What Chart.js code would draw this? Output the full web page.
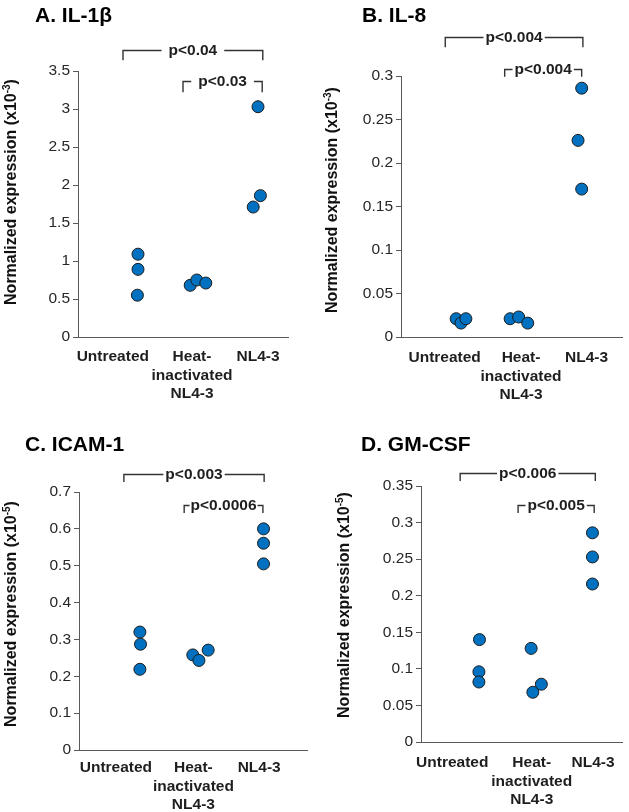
<!DOCTYPE html>
<html><head><meta charset="utf-8">
<script src="https://cdn.jsdelivr.net/npm/chart.js@4/dist/chart.umd.min.js"></script>
<style>
body{margin:0;background:#fff;width:629px;height:812px;position:relative;overflow:hidden}
canvas{position:absolute;display:block}
</style></head><body>
<canvas id="cA" width="315" height="406" style="left:0;top:0"></canvas>
<canvas id="cB" width="315" height="406" style="left:314px;top:0"></canvas>
<canvas id="cC" width="315" height="406" style="left:0;top:406px"></canvas>
<canvas id="cD" width="315" height="406" style="left:314px;top:406px"></canvas>
<script>
// ---------- data ----------
const categoryLabels = [["Untreated"], ["Heat-", "inactivated", "NL4-3"], ["NL4-3"]];

// A. IL-1β (x10^-3)
const il1bUntreated = [1.09, 0.89, 0.55];
const il1bHeat      = [0.68, 0.75, 0.71];
const il1bNL43      = [3.03, 1.86, 1.71];
const il1bPos       = [[1.0, 1.0, 0.99], [1.87, 1.98, 2.13], [3.0, 3.04, 2.92]];
const il1bTicks     = ["0", "0.5", "1", "1.5", "2", "2.5", "3", "3.5"];
const il1bP         = ["p<0.04", "p<0.03"];

// B. IL-8 (x10^-3)
const il8Untreated = [0.021, 0.016, 0.021];
const il8Heat      = [0.021, 0.023, 0.016];
const il8NL43      = [0.286, 0.226, 0.170];
const il8Pos       = [[0.91, 0.99, 1.07], [1.80, 1.94, 2.09], [2.98, 2.92, 2.98]];
const il8Ticks     = ["0", "0.05", "0.1", "0.15", "0.2", "0.25", "0.3"];
const il8P         = ["p<0.004", "p<0.004"];

// C. ICAM-1 (x10^-5)
const icamUntreated = [0.320, 0.287, 0.219];
const icamHeat      = [0.258, 0.243, 0.271];
const icamNL43      = [0.600, 0.561, 0.505];
const icamPos       = [[0.99, 1.0, 0.99], [1.85, 1.95, 2.10], [3.0, 3.0, 3.0]];
const icamTicks     = ["0", "0.1", "0.2", "0.3", "0.4", "0.5", "0.6", "0.7"];
const icamP         = ["p<0.003", "p<0.0006"];

// D. GM-CSF (x10^-5)
const gmUntreated = [0.140, 0.096, 0.082];
const gmHeat      = [0.128, 0.068, 0.079];
const gmNL43      = [0.286, 0.253, 0.216];
const gmPos       = [[1.03, 1.02, 1.02], [1.94, 1.97, 2.12], [3.02, 3.02, 3.02]];
const gmTicks     = ["0", "0.05", "0.1", "0.15", "0.2", "0.25", "0.3", "0.35"];
const gmP         = ["p<0.006", "p<0.005"];

// ---------- drawing ----------
const FONT = '"Liberation Sans", Arial, sans-serif';
const AXIS = '#595959';
const INK = '#1e1e1e';
const W = 315, H = 406;

const decoPlugin = {
  id: 'deco',
  afterDraw(chart, args, o) {
    const ctx = chart.ctx, xs = chart.scales.x, ys = chart.scales.y;
    ctx.save();
    // panel title
    ctx.fillStyle = '#000';
    ctx.font = 'bold 21px ' + FONT;
    ctx.textAlign = 'left'; ctx.textBaseline = 'middle';
    ctx.fillText(o.title, o.titleX, o.titleY);
    // y axis title with superscript
    ctx.save();
    ctx.translate(o.yTitleX, o.yTitleY);
    ctx.rotate(-Math.PI / 2);
    const mainF = 'bold 16px ' + FONT, supF = 'bold 10px ' + FONT;
    ctx.font = mainF; const w1 = ctx.measureText(o.yTitle).width; const w3 = ctx.measureText(')').width;
    ctx.font = supF; const w2 = ctx.measureText(o.yTitleSup).width;
    let x0 = -(w1 + w2 + w3) / 2;
    ctx.textAlign = 'left'; ctx.textBaseline = 'middle'; ctx.fillStyle = '#111';
    ctx.font = mainF; ctx.fillText(o.yTitle, x0, 0);
    ctx.font = supF; ctx.fillText(o.yTitleSup, x0 + w1, -5);
    ctx.font = mainF; ctx.fillText(')', x0 + w1 + w2, 0);
    ctx.restore();
    // category labels
    ctx.font = 'bold 15.5px ' + FONT;
    ctx.fillStyle = INK; ctx.textAlign = 'center'; ctx.textBaseline = 'middle';
    categoryLabels.forEach((lines, i) => {
      const cx = xs.getPixelForValue(o.catX[i]);
      lines.forEach((t, j) => ctx.fillText(t, cx, ys.bottom + o.catDy + j * 18.3));
    });
    // significance brackets
    ctx.strokeStyle = '#333'; ctx.lineWidth = 1.4;
    o.brackets.forEach(b => {
      const x1 = xs.getPixelForValue(b.x1), x2 = xs.getPixelForValue(b.x2);
      const yl = Math.round(ys.getPixelForValue(b.yLine)) + 0.5, ye = ys.getPixelForValue(b.yEnd);
      ctx.font = 'bold 15.5px ' + FONT;
      const tw = ctx.measureText(b.text).width;
      const cx = (x1 + x2) / 2;
      ctx.beginPath();
      ctx.moveTo(x1, ye); ctx.lineTo(x1, yl); ctx.lineTo(cx - tw / 2 - b.gap, yl);
      ctx.moveTo(cx + tw / 2 + b.gap, yl); ctx.lineTo(x2, yl); ctx.lineTo(x2, ye);
      ctx.stroke();
      ctx.fillStyle = INK; ctx.textAlign = 'center'; ctx.textBaseline = 'alphabetic';
      ctx.fillText(b.text, cx, yl + 4.5);
    });
    ctx.restore();
  }
};

function makeChart(id, p) {
  const groups = [p.untreated, p.heat, p.nl43];
  const pts = [];
  groups.forEach((vals, g) => vals.forEach((v, k) => pts.push({ x: p.pos[g][k], y: v })));
  const yVals = p.ticks.map(Number);
  new Chart(document.getElementById(id), {
    type: 'scatter',
    data: { datasets: [{ data: pts, pointRadius: 6, pointHoverRadius: 6, backgroundColor: '#0070C0', borderColor: '#1c1c1c', borderWidth: 1 }] },
    options: {
      responsive: false, animation: false, events: [],
      layout: { padding: { left: 0, top: p.box.top, right: W - p.box.right, bottom: 0 } },
      plugins: { legend: { display: false }, tooltip: { enabled: false }, deco: p.deco },
      scales: {
        x: { type: 'linear', min: 0, max: p.xMax,
             ticks: { display: false }, grid: { display: false },
             border: { display: true, color: AXIS, width: 1 },
             afterFit(s) { s.height = H - p.box.bottom; } },
        y: { type: 'linear', min: 0, max: yVals[yVals.length - 1],
             afterBuildTicks(s) { s.ticks = yVals.map(v => ({ value: v })); },
             ticks: { callback: (v, i) => p.ticks[i], color: '#262626', font: { family: FONT, size: 15.5 }, padding: 3 },
             grid: { drawOnChartArea: false, drawTicks: true, tickLength: 5, color: AXIS },
             border: { display: true, color: AXIS, width: 1 },
             afterFit(s) { s.width = p.box.left; } }
      }
    },
    plugins: [decoPlugin]
  });
}

makeChart('cA', {
  untreated: il1bUntreated, heat: il1bHeat, nl43: il1bNL43, pos: il1bPos, ticks: il1bTicks,
  box: { left: 78, right: 288, top: 71, bottom: 337 }, xMax: 3.5,
  deco: { title: 'A. IL-1β', titleX: 35, titleY: 16, yTitle: 'Normalized expression (x10', yTitleSup: '-3', yTitleX: 12, yTitleY: 192,
          catX: [0.58, 1.9, 3.0], catDy: 20,
          brackets: [{ x1: 0.75, x2: 3.08, yLine: 3.78, yEnd: 3.64, text: il1bP[0], gap: 7 },
                     { x1: 1.75, x2: 3.07, yLine: 3.37, yEnd: 3.22, text: il1bP[1], gap: 7 }] }
});
makeChart('cB', {
  untreated: il8Untreated, heat: il8Heat, nl43: il8NL43, pos: il8Pos, ticks: il8Ticks,
  box: { left: 87, right: 313, top: 76, bottom: 337 }, xMax: 3.645,
  deco: { title: 'B. IL-8', titleX: 48, titleY: 16, yTitle: 'Normalized expression (x10', yTitleSup: '-3', yTitleX: 19, yTitleY: 200,
          catX: [0.72, 1.98, 3.06], catDy: 21,
          brackets: [{ x1: 0.73, x2: 3.0, yLine: 0.345, yEnd: 0.333, text: il8P[0], gap: 2 },
                     { x1: 1.71, x2: 2.98, yLine: 0.308, yEnd: 0.299, text: il8P[1], gap: 2 }] }
});
makeChart('cC', {
  untreated: icamUntreated, heat: icamHeat, nl43: icamNL43, pos: icamPos, ticks: icamTicks,
  box: { left: 79, right: 307, top: 86, bottom: 344 }, xMax: 3.707,
  deco: { title: 'C. ICAM-1', titleX: 25, titleY: 39, yTitle: 'Normalized expression (x10', yTitleSup: '-5', yTitleX: 12, yTitleY: 208,
          catX: [0.60, 1.86, 2.93], catDy: 18,
          brackets: [{ x1: 0.73, x2: 3.01, yLine: 0.750, yEnd: 0.727, text: icamP[0], gap: 2 },
                     { x1: 1.71, x2: 2.99, yLine: 0.665, yEnd: 0.643, text: icamP[1], gap: 1 }] }
});
makeChart('cD', {
  untreated: gmUntreated, heat: gmHeat, nl43: gmNL43, pos: gmPos, ticks: gmTicks,
  box: { left: 107, right: 314, top: 80, bottom: 336 }, xMax: 3.54,
  deco: { title: 'D. GM-CSF', titleX: 47, titleY: 39, yTitle: 'Normalized expression (x10', yTitleSup: '-5', yTitleX: 31, yTitleY: 199,
          catX: [0.55, 1.95, 3.03], catDy: 21,
          brackets: [{ x1: 0.69, x2: 3.07, yLine: 0.368, yEnd: 0.357, text: gmP[0], gap: 2 },
                     { x1: 1.71, x2: 3.05, yLine: 0.324, yEnd: 0.313, text: gmP[1], gap: 2 }] }
});
</script>
</body></html>
